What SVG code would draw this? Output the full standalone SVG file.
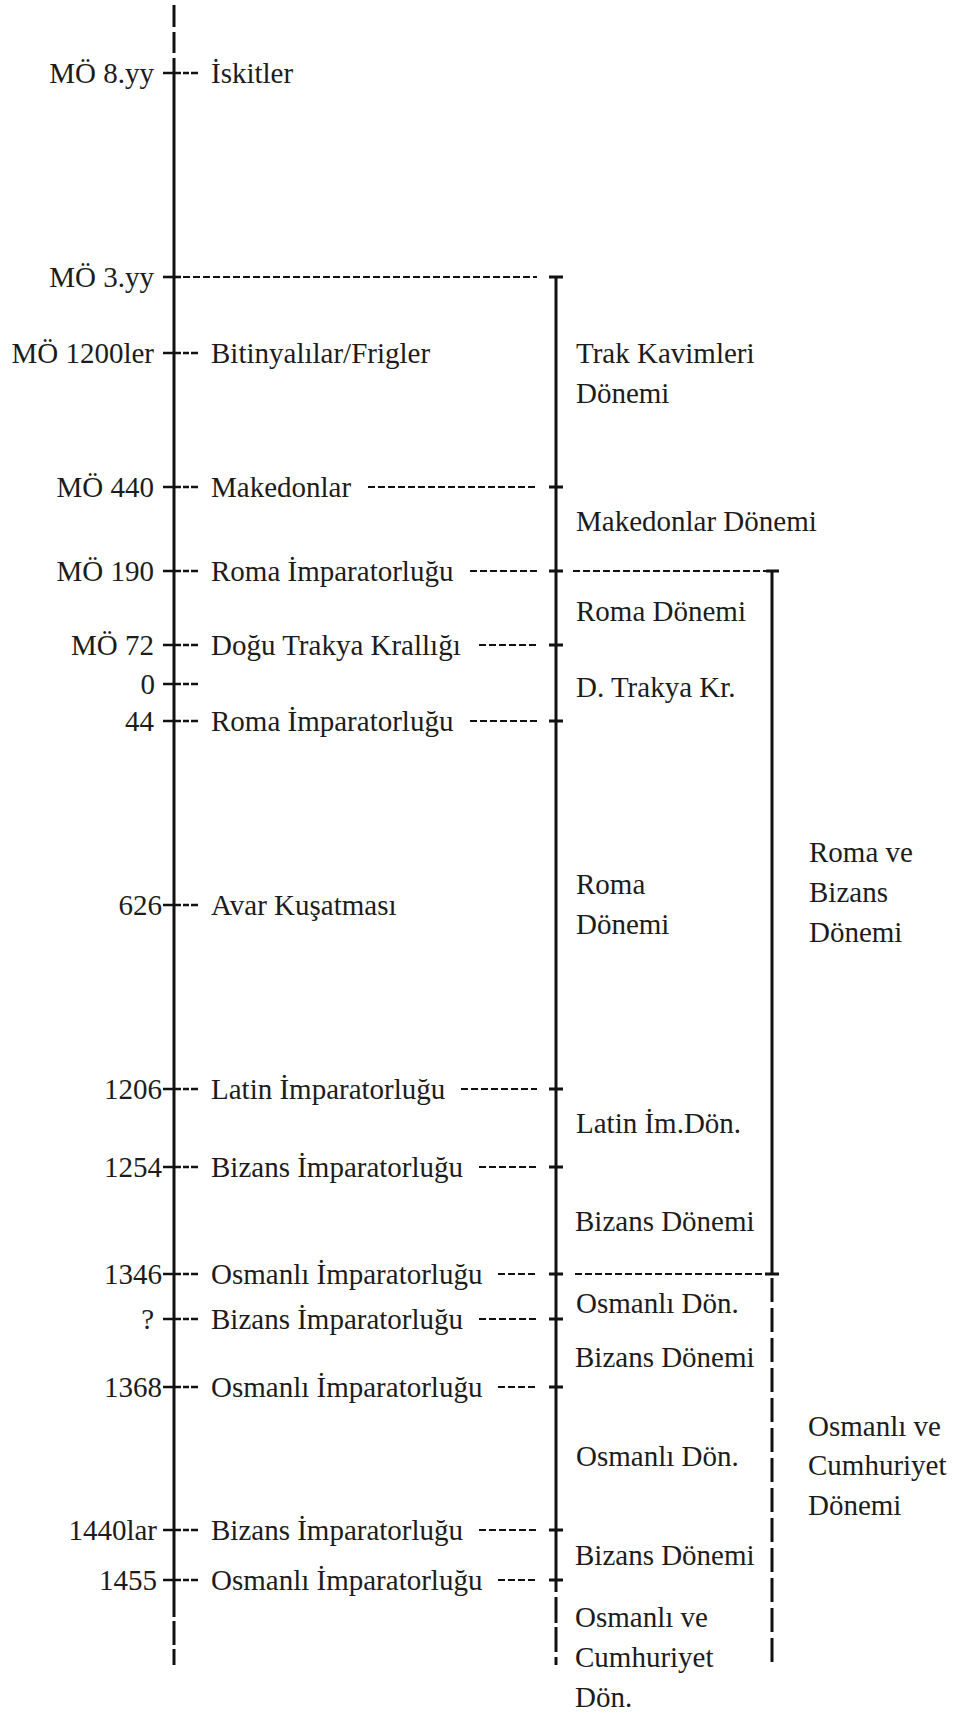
<svg xmlns="http://www.w3.org/2000/svg" width="955" height="1715" viewBox="0 0 955 1715">
<style>
.t{font-family:"Liberation Serif","Times New Roman",serif;font-size:29px;fill:#1c1c1c}
.e{text-anchor:end}
.ax{stroke:#111;stroke-width:3;fill:none}
.tk{stroke:#111;stroke-width:2.6;fill:none}
.ds{stroke:#111;stroke-width:2;fill:none;stroke-dasharray:7 3}
</style>
<rect width="955" height="1715" fill="#fff"/>
<g id="connectors">
<path class="ax" d="M174,5V27M174,32V53M174,58V1617M174,1621V1645M174,1649V1665"/>
<path class="ax" d="M549,277H563M556,277V1592M556,1597V1623M556,1627V1652M556,1657V1665"/>
<path class="ax" d="M766,571H779M772,571V1274M765,1274H779"/>
<path class="ax" d="M772,1278V1667" stroke-dasharray="24 6"/>
<path class="ds" d="M183,277H537"/>
<path class="ds" d="M368,487H537"/>
<path class="ds" d="M470,571H537M573,571H766"/>
<path class="ds" d="M479,645H537"/>
<path class="ds" d="M470,721H537"/>
<path class="ds" d="M461,1089H537"/>
<path class="ds" d="M479,1167H537"/>
<path class="ds" d="M498,1274H537M575,1274H765"/>
<path class="ds" d="M479,1319H537"/>
<path class="ds" d="M498,1387H537"/>
<path class="ds" d="M479,1530H537"/>
<path class="ds" d="M498,1580H537"/>
<path class="ax" d="M549,487H563M549,571H563M549,645H563M549,721H563M549,1089H563M549,1167H563M549,1274H563M549,1319H563M549,1387H563M549,1530H563M549,1580H563"/>
</g>
<g id="e-8yy"><path class="tk" d="M163,73H181M183,73H189M191,73H198"/><text class="t e" x="154" y="83">MÖ 8.yy</text><text class="t" x="211" y="83">İskitler</text></g>
<g id="e-3yy"><path class="tk" d="M163,277H181"/><text class="t e" x="154" y="287">MÖ 3.yy</text></g>
<g id="e-1200"><path class="tk" d="M163,353H181M183,353H189M191,353H198"/><text class="t e" x="154" y="363">MÖ 1200ler</text><text class="t" x="211" y="363">Bitinyalılar/Frigler</text></g>
<g id="e-440"><path class="tk" d="M163,487H181M183,487H189M191,487H198"/><text class="t e" x="154" y="497">MÖ 440</text><text class="t" x="211" y="497">Makedonlar</text></g>
<g id="e-190"><path class="tk" d="M163,571H181M183,571H189M191,571H198"/><text class="t e" x="154" y="581">MÖ 190</text><text class="t" x="211" y="581">Roma İmparatorluğu</text></g>
<g id="e-72"><path class="tk" d="M163,645H181M183,645H189M191,645H198"/><text class="t e" x="154" y="655">MÖ 72</text><text class="t" x="211" y="655">Doğu Trakya Krallığı</text></g>
<g id="e-0"><path class="tk" d="M163,684H181M183,684H189M191,684H198"/><text class="t e" x="155" y="694">0</text></g>
<g id="e-44"><path class="tk" d="M163,721H181M183,721H189M191,721H198"/><text class="t e" x="154" y="731">44</text><text class="t" x="211" y="731">Roma İmparatorluğu</text></g>
<g id="e-626"><path class="tk" d="M163,905H181M183,905H189M191,905H198"/><text class="t e" x="162" y="915">626</text><text class="t" x="211" y="915">Avar Kuşatması</text></g>
<g id="e-1206"><path class="tk" d="M163,1089H181M183,1089H189M191,1089H198"/><text class="t e" x="162" y="1099">1206</text><text class="t" x="211" y="1099">Latin İmparatorluğu</text></g>
<g id="e-1254"><path class="tk" d="M163,1167H181M183,1167H189M191,1167H198"/><text class="t e" x="162" y="1177">1254</text><text class="t" x="211" y="1177">Bizans İmparatorluğu</text></g>
<g id="e-1346"><path class="tk" d="M163,1274H181M183,1274H189M191,1274H198"/><text class="t e" x="162" y="1284">1346</text><text class="t" x="211" y="1284">Osmanlı İmparatorluğu</text></g>
<g id="e-q"><path class="tk" d="M163,1319H181M183,1319H189M191,1319H198"/><text class="t e" x="154" y="1329">?</text><text class="t" x="211" y="1329">Bizans İmparatorluğu</text></g>
<g id="e-1368"><path class="tk" d="M163,1387H181M183,1387H189M191,1387H198"/><text class="t e" x="162" y="1397">1368</text><text class="t" x="211" y="1397">Osmanlı İmparatorluğu</text></g>
<g id="e-1440"><path class="tk" d="M163,1530H181M183,1530H189M191,1530H198"/><text class="t e" x="157" y="1540">1440lar</text><text class="t" x="211" y="1540">Bizans İmparatorluğu</text></g>
<g id="e-1455"><path class="tk" d="M163,1580H181M183,1580H189M191,1580H198"/><text class="t e" x="157" y="1590">1455</text><text class="t" x="211" y="1590">Osmanlı İmparatorluğu</text></g>
<g id="p-trak"><text class="t" x="576" y="363">Trak Kavimleri</text><text class="t" x="576" y="403">Dönemi</text></g>
<g id="p-makedon"><text class="t" x="576" y="531">Makedonlar Dönemi</text></g>
<g id="p-roma1"><text class="t" x="576" y="621">Roma Dönemi</text></g>
<g id="p-dtrakya"><text class="t" x="576" y="697">D. Trakya Kr.</text></g>
<g id="p-roma2"><text class="t" x="576" y="894">Roma</text><text class="t" x="576" y="934">Dönemi</text></g>
<g id="p-latin"><text class="t" x="576" y="1133">Latin İm.Dön.</text></g>
<g id="p-bizans1"><text class="t" x="575" y="1231">Bizans Dönemi</text></g>
<g id="p-osmanli1"><text class="t" x="576" y="1313">Osmanlı Dön.</text></g>
<g id="p-bizans2"><text class="t" x="575" y="1367">Bizans Dönemi</text></g>
<g id="p-osmanli2"><text class="t" x="576" y="1466">Osmanlı Dön.</text></g>
<g id="p-bizans3"><text class="t" x="575" y="1565">Bizans Dönemi</text></g>
<g id="p-osmcum"><text class="t" x="575" y="1627">Osmanlı ve</text><text class="t" x="575" y="1667">Cumhuriyet</text><text class="t" x="575" y="1707">Dön.</text></g>
<g id="p-romabiz"><text class="t" x="809" y="862">Roma ve</text><text class="t" x="809" y="902">Bizans</text><text class="t" x="809" y="942">Dönemi</text></g>
<g id="p-osmcum2"><text class="t" x="808" y="1436">Osmanlı ve</text><text class="t" x="808" y="1475">Cumhuriyet</text><text class="t" x="808" y="1515">Dönemi</text></g>
</svg>
